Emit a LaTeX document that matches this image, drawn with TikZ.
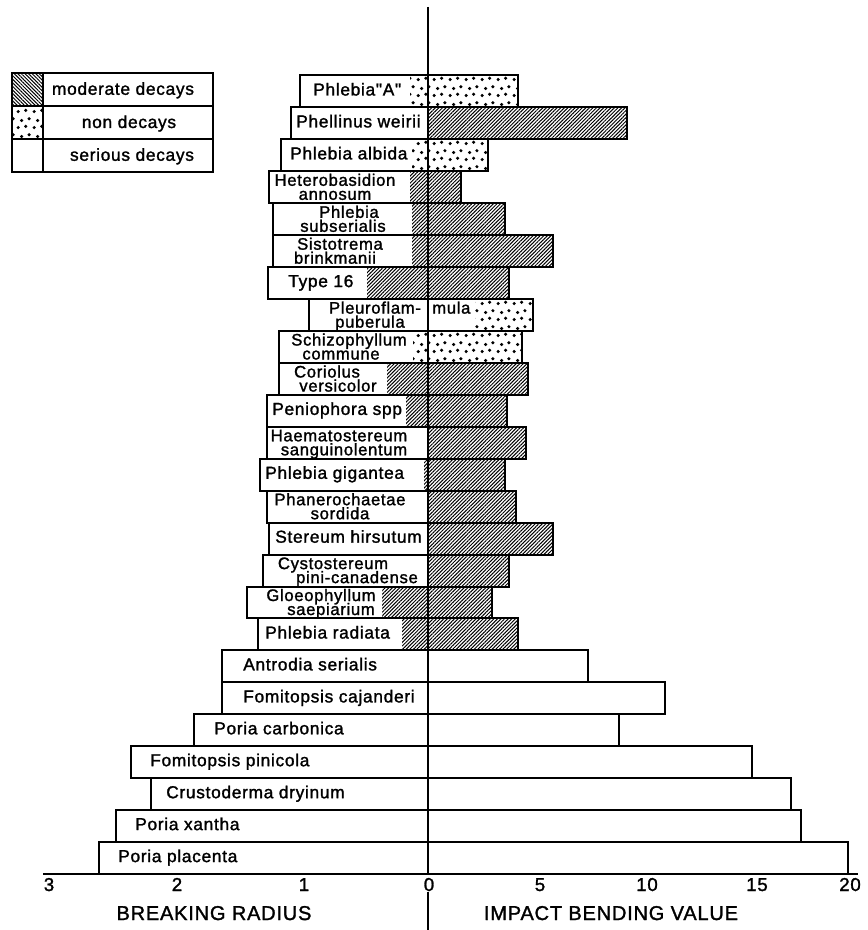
\documentclass[tikz,border=0pt]{standalone}
\usepackage{fontspec}
\setmainfont{Liberation Sans}[LetterSpace=4]
\newfontfamily\labfont{Liberation Sans}[LetterSpace=4,FakeBold=1.5]
\usetikzlibrary{patterns.meta}

\tikzdeclarepattern{
  name=sdots, type=uncolored,
  bottom left={(0pt,0pt)}, top right={(12pt,12pt)}, tile size={(12pt,12pt)},
  code={
    \fill (1.7pt,1.9pt) circle (1.35pt);
    \fill (7.6pt,2.9pt) circle (1.35pt);
    \fill (4.4pt,7.4pt) circle (1.35pt);
    \fill (10.2pt,8.8pt) circle (1.35pt);
  }
}

\tikzset{
  brd/.style={line width=1.5pt, line join=miter},
  hat/.style={pattern={Lines[angle=45,distance=1.9pt,line width=0.75pt]}},
  hatnw/.style={pattern={Lines[angle=-45,distance=1.9pt,line width=0.75pt]}},
  dts/.style={pattern=sdots},
  non/.style={},
  lab/.style={font=\labfont\fontsize{13}{13}\selectfont, inner sep=0pt},
  labs/.style={font=\labfont\fontsize{12.5}{12.5}\selectfont, inner sep=0pt, anchor=base},
  tick/.style={font=\labfont\fontsize{14}{14}\selectfont, inner sep=0pt, anchor=base},
  title/.style={font=\labfont\fontsize{15}{15}\selectfont, inner sep=0pt, anchor=base},
}

\def\rows{
1/300/518/410/dts/428/dts,
2/291/627/428/non/428/hat,
3/281/488/412/dts/428/dts,
4/269/461/410/hat/428/hat,
5/273/505/412/hat/428/hat,
6/273/553/412/hat/428/hat,
7/268/509/367/hat/428/hat,
8/309/533/428/non/475/dts,
9/279/522/413/dts/428/dts,
10/279/528/387/hat/428/hat,
11/267/507/406/hat/428/hat,
12/267/526/428/non/428/hat,
13/260/505/424/hat/428/hat,
14/267/516/427/hat/428/hat,
15/269/553/428/non/428/hat,
16/263/509/428/non/428/hat,
17/247/492/382/hat/428/hat,
18/258/518/402/hat/428/hat,
19/222/588/428/non/428/non,
20/222/665/428/non/428/non,
21/194/619/428/non/428/non,
22/131/752/428/non/428/non,
23/151/791/428/non/428/non,
24/116/801/428/non/428/non,
25/99/848/428/non/428/non}

\begin{document}
\begin{tikzpicture}[x=0.75pt,y=-0.75pt]
\useasboundingbox (0,0) rectangle (867,930);

% patterns of the bars
\foreach \i/\L/\R/\pl/\tl/\pr/\tr in \rows {
  \pgfmathsetmacro\tp{75.5+(\i-1)*31.94}
  \pgfmathsetmacro\bt{\tp+31.94}
  \path[\tl] (\pl,\tp) rectangle (428,\bt);
  \path[\tr] (\pr,\tp) rectangle (\R,\bt);
}
% outlines of the bars
\foreach \i/\L/\R/\pl/\tl/\pr/\tr in \rows {
  \pgfmathsetmacro\tp{75.5+(\i-1)*31.94}
  \pgfmathsetmacro\bt{\tp+31.94}
  \draw[brd] (\L,\tp) rectangle (\R,\bt);
}

% axes
\coordinate (axtop) at (428,7);
\coordinate (axzero) at (428,874);
\coordinate (axlow) at (428,892);
\coordinate (axbot) at (428,930);
\coordinate (hleft) at (43,874);
\coordinate (hright) at (858,874);
\draw[brd] (axtop) -- (axzero);
\draw[brd] (axlow) -- (axbot);
\draw[brd] (hleft) -- (hright);

% tick labels
\node[tick] (k3) at (49,891) {3};
\node[tick] (k2) at (177,891) {2};
\node[tick] (k1) at (304,891) {1};
\node[tick] (k0) at (429,891) {0};
\node[tick] (k5) at (540,891) {5};
\node[tick] (k10) at (647,891) {10};
\node[tick] (k15) at (757,891) {15};
\node[tick] (k20) at (850,891) {20};
\node[title] (tbr) at (214,920) {BREAKING RADIUS};
\node[title] (tib) at (611,920) {IMPACT BENDING VALUE};

% legend
\path[hatnw] (12,73) rectangle (43,106.5);
\path[dts] (12,106.5) rectangle (43,139.5);
\draw[brd] (12,73) rectangle (213,172);
\draw[brd] (12,106.5) -- (213,106.5);
\draw[brd] (12,139.5) -- (213,139.5);
\draw[brd] (43,73) -- (43,172);
\node[lab, anchor=base] (lg1) at (123,94.8) {moderate decays};
\node[lab, anchor=base] (lg2) at (129,128) {non decays};
\node[lab, anchor=base] (lg3) at (132,160.8) {serious decays};

% single-line labels
\node[lab, anchor=base west] (n1) at (313,95.5) {Phlebia"A"};
\node[lab, anchor=base west] (n2) at (296,127.4) {Phellinus weirii};
\node[lab, anchor=base west] (n3) at (290,159.4) {Phlebia albida};
\node[lab, anchor=base west] (n7) at (288,287.1) {Type 16};
\node[lab, anchor=base west] (n11) at (272,414.9) {Peniophora spp};
\node[lab, anchor=base west] (n13) at (265,478.8) {Phlebia gigantea};
\node[lab, anchor=base west] (n15) at (275,542.7) {Stereum hirsutum};
\node[lab, anchor=base west] (n18) at (265,638.5) {Phlebia radiata};
\node[lab, anchor=base west] (n19) at (243,670.4) {Antrodia serialis};
\node[lab, anchor=base west] (n20) at (243,702.4) {Fomitopsis cajanderi};
\node[lab, anchor=base west] (n21) at (214,734.3) {Poria carbonica};
\node[lab, anchor=base west] (n22) at (150,766.2) {Fomitopsis pinicola};
\node[lab, anchor=base west] (n23) at (166,798.2) {Crustoderma dryinum};
\node[lab, anchor=base west] (n24) at (135,830.1) {Poria xantha};
\node[lab, anchor=base west] (n25) at (118,862.1) {Poria placenta};

% two-line labels
\node[labs] (n4a) at (335,185.8) {Heterobasidion};
\node[labs] (n4b) at (335,199.8) {annosum};
\node[labs] (n5a) at (349,217.8) {Phlebia};
\node[labs] (n5b) at (343,231.8) {subserialis};
\node[labs] (n6a) at (340,249.7) {Sistotrema};
\node[labs] (n6b) at (335,263.7) {brinkmanii};
\node[labs] (n8a) at (375,313.6) {Pleuroflam-};
\node[labs] (n8b) at (370,327.6) {puberula};
\node[labs, anchor=base west] (n8c) at (432,313.6) {mula};
\node[labs] (n9a) at (349,345.5) {Schizophyllum};
\node[labs] (n9b) at (341,359.5) {commune};
\node[labs] (n10a) at (327,377.5) {Coriolus};
\node[labs] (n10b) at (338,391.5) {versicolor};
\node[labs] (n12a) at (339,441.3) {Haematostereum};
\node[labs] (n12b) at (344,455.3) {sanguinolentum};
\node[labs] (n14a) at (340,505.2) {Phanerochaetae};
\node[labs] (n14b) at (340,519.2) {sordida};
\node[labs] (n16a) at (333,569.1) {Cystostereum};
\node[labs] (n16b) at (357,583.1) {pini-canadense};
\node[labs] (n17a) at (321,601.0) {Gloeophyllum};
\node[labs] (n17b) at (331,615.0) {saepiarium};
\end{tikzpicture}
\end{document}
